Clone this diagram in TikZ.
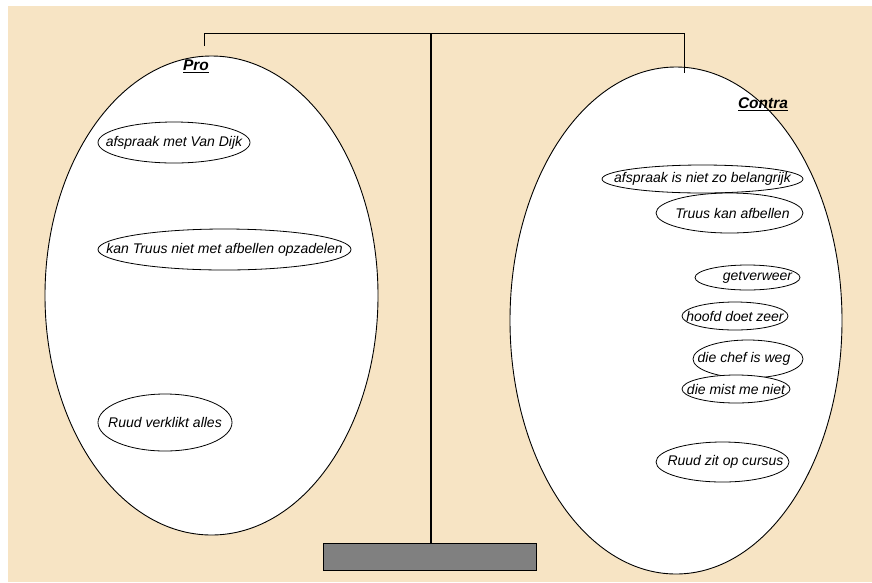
\documentclass[tikz,border=0pt]{standalone}
\usepackage{fontspec}
\setmainfont{Liberation Sans}
\usetikzlibrary{shapes.geometric}
\definecolor{bgbeige}{RGB}{247,228,196}
\definecolor{basegray}{RGB}{128,128,128}
\tikzset{
  bigpan/.style={draw=black, line width=0.9pt, fill=white, ellipse, inner sep=0pt},
  arg/.style={draw=black, line width=0.8pt, fill=white, ellipse, inner sep=0pt},
  argtext/.style={font=\fontsize{14}{16}\selectfont\itshape, inner sep=0pt},
  panlabel/.style={font=\fontsize{15.5}{18}\selectfont\bfseries\itshape, inner sep=0pt},
  beam/.style={draw=black, line width=0.9pt},
  pole/.style={draw=black, line width=2pt},
}
\begin{document}
\begin{tikzpicture}[x=1pt,y=-1pt]
\useasboundingbox (0,0) rectangle (872,582);
\fill[white] (0,0) rectangle (872,582);
\fill[bgbeige] (8,6) rectangle (872,582);
% beam
\coordinate (bl) at (204,46);
\coordinate (blt) at (204,33);
\coordinate (brt) at (684,33);
\coordinate (br) at (684,73);
\coordinate (ptop) at (431,33);
% pans
\node[bigpan, minimum width=333, minimum height=479] (pro) at (211.5,295.5) {};
\node[bigpan, minimum width=332, minimum height=507] (contra) at (676,320.5) {};
\draw[beam] (bl) -- (blt) -- (brt) -- (br);
% base
\node[draw=black, line width=1.5pt, fill=basegray, minimum width=213, minimum height=27, inner sep=0pt] (base) at (430,557) {};
\draw[pole] (ptop) -- (base.north -| ptop);
% labels
\node[panlabel] (prol) at (196,66) {\underline{Pro}};
\node[panlabel] (contral) at (763,104) {\underline{Contra}};
% pro arguments
\node[arg, minimum width=152, minimum height=41, label={[argtext]center:afspraak met Van Dijk}] (a1) at (174,142.5) {};
\node[arg, minimum width=253, minimum height=41, label={[argtext]center:kan Truus niet met afbellen opzadelen}] (a2) at (224.5,249.5) {};
\node[arg, minimum width=134, minimum height=57, label={[argtext]center:Ruud verklikt alles}] (a3) at (165,422.5) {};
% contra arguments
\node[arg, minimum width=201, minimum height=28, label={[argtext]center:afspraak is niet zo belangrijk}] (c1) at (702.5,179) {};
\node[arg, minimum width=147, minimum height=40, label={[argtext,xshift=3pt]center:Truus kan afbellen}] (c2) at (729.5,213) {};
\node[arg, minimum width=105, minimum height=25, label={[argtext,xshift=10pt]center:getverweer}] (c3) at (747.5,277.5) {};
\node[arg, minimum width=106, minimum height=28, label={[argtext]center:hoofd doet zeer}] (c4) at (735,316) {};
\node[arg, minimum width=110, minimum height=38, label={[argtext,xshift=-4pt]center:die chef is weg}] (c5) at (748,359) {};
\node[arg, minimum width=108, minimum height=28, label={[argtext]center:die mist me niet}] (c6) at (736,389) {};
\node[arg, minimum width=133, minimum height=40, label={[argtext,xshift=3pt]center:Ruud zit op cursus}] (c7) at (722.5,462) {};
\end{tikzpicture}
\end{document}
